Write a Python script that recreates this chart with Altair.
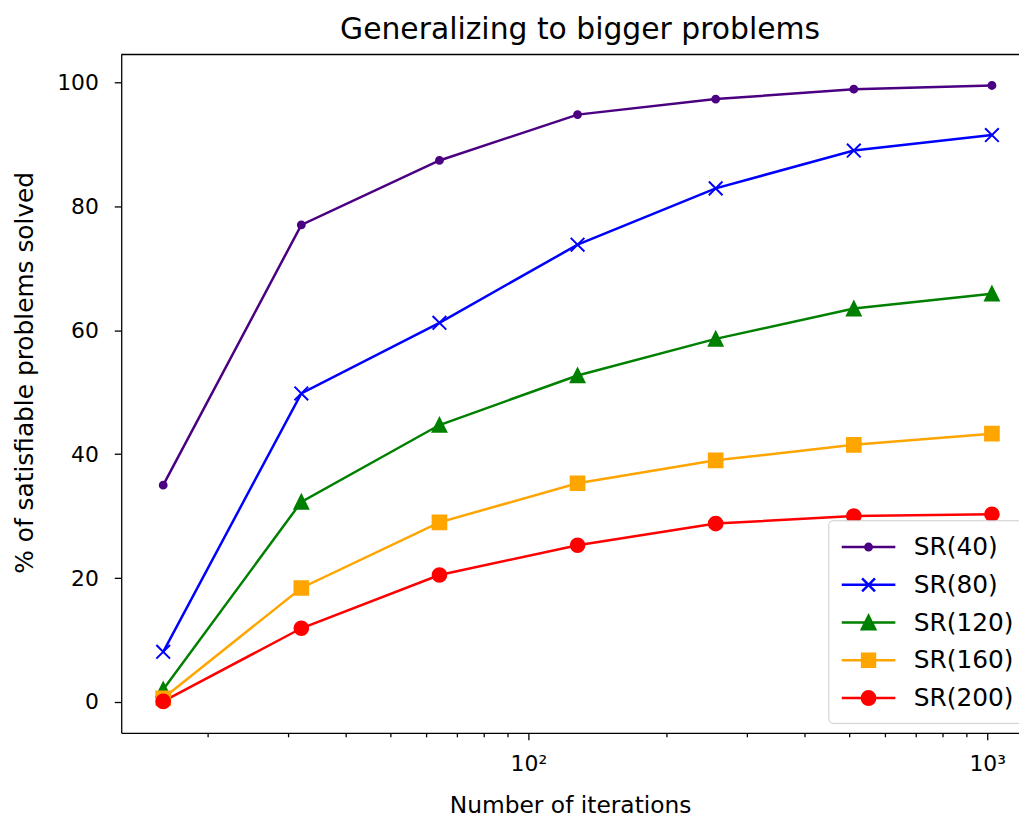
import altair as alt
import pandas as pd

# ---- data ----
iterations = [16, 32, 64, 128, 256, 512, 1024]
series_names = ["SR(40)", "SR(80)", "SR(120)", "SR(160)", "SR(200)"]
sr40 = [35.0, 77.0, 87.4, 94.8, 97.3, 98.9, 99.5]
sr80 = [8.1, 49.8, 61.2, 73.8, 82.9, 89.0, 91.5]
sr120 = [2.0, 32.3, 44.7, 52.7, 58.6, 63.5, 65.9]
sr160 = [0.6, 18.4, 29.0, 35.3, 39.0, 41.5, 43.3]
sr200 = [0.1, 11.9, 20.5, 25.3, 28.8, 30.0, 30.3]
y_ticks = [0, 20, 40, 60, 80, 100]
x_major = [100, 1000]
x_minor = [20, 30, 40, 50, 60, 70, 80, 90, 200, 300, 400, 500, 600, 700, 800, 900]

all_series = [sr40, sr80, sr120, sr160, sr200]
rows = []
for name, vals in zip(series_names, all_series):
    for it, v in zip(iterations, vals):
        rows.append({"iterations": it, "solved": v, "series": name})
df = pd.DataFrame(rows)

# ---- styles ----
colors = ["indigo", "blue", "green", "orange", "red"]
FONT = "DejaVu Sans"
W, H = 904, 683

dot = "M-0.5,0A0.5,0.5 0 1,0 0.5,0A0.5,0.5 0 1,0 -0.5,0Z"
xmark = "M-1,-1L1,1M-1,1L1,-1"
tri = "M0,-1L1,1L-1,1Z"
marker_shapes = [dot, xmark, tri, "square", "circle"]

# legend symbols: a line with the marker at its middle
ln = "M-1,0L3,0"
leg_shapes = [
    ln + "M0.755,0A0.245,0.245 0 1,0 1.245,0A0.245,0.245 0 1,0 0.755,0Z",
    ln + "M0.52,-0.48L1.48,0.48M0.52,0.48L1.48,-0.48",
    ln + "M1,-0.5L1.5,0.5L0.5,0.5Z",
    ln + "M0.52,-0.48L1.48,-0.48L1.48,0.48L0.52,0.48Z",
    ln + "M0.5,0A0.5,0.5 0 1,0 1.5,0A0.5,0.5 0 1,0 0.5,0Z",
]


def lookup_expr(field, values):
    expr = "'" + values[-1] + "'"
    for name, v in reversed(list(zip(series_names[:-1], values[:-1]))):
        expr = f"{field} == '{name}' ? '{v}' : ({expr})"
    return expr


def cscale():
    return alt.Scale(domain=series_names, range=colors)


legend = alt.Legend(
    title=None,
    orient="none",
    legendX=712,
    legendY=469,
    symbolSize=729,
    symbolStrokeWidth=2.5,
    symbolOpacity=1,
    labelFontSize=25,
    labelFont=FONT,
    labelColor="black",
    labelOffset=44,
    rowPadding=10,
    padding=12,
    strokeColor="#cccccc",
    fillColor="white",
    cornerRadius=4,
)

x_enc = alt.X(
    "iterations:Q",
    scale=alt.Scale(type="log", domain=[12.96, 1173], nice=False),
    axis=alt.Axis(
        values=sorted(x_minor + x_major),
        labelExpr="datum.value == 100 ? '10²' : (datum.value == 1000 ? '10³' : '')",
        tickSize={"condition": {"test": "datum.value == 100 || datum.value == 1000", "value": 7}, "value": 4},
        labelFlush=False,
        grid=False,
        title="Number of iterations",
        labelFontSize=22,
        titleFontSize=23.5,
        labelPadding=14,
        titlePadding=19,
    ),
)
y_enc = alt.Y(
    "solved:Q",
    scale=alt.Scale(domain=[-4.97, 104.5], nice=False, zero=False),
    axis=alt.Axis(
        values=y_ticks,
        tickSize=7,
        grid=False,
        title="% of satisfiable problems solved",
        labelFontSize=22,
        titleFontSize=25,
        labelPadding=16,
        titlePadding=19,
        titleY=320,
    ),
)

lines = alt.Chart(df).mark_line(strokeWidth=2.5, clip=True).encode(
    x=x_enc,
    y=y_enc,
    stroke=alt.Stroke("series:N", scale=cscale(), legend=legend),
    detail="series:N",
)

points = (
    alt.Chart(df)
    .transform_calculate(mshape=lookup_expr("datum.series", marker_shapes))
    .mark_point(filled=True, size=190, strokeWidth=2, opacity=1, clip=True)
    .encode(
        x="iterations:Q",
        y="solved:Q",
        fill=alt.Fill("series:N", scale=cscale(), legend=legend),
        stroke=alt.Stroke("series:N", scale=cscale(), legend=legend),
        shape=alt.Shape("mshape:N", scale=None),
    )
)

legend_layer = (
    alt.Chart(df)
    .transform_filter("false")
    .mark_point(filled=True, opacity=1)
    .encode(
        fill=alt.Fill("series:N", scale=cscale(), legend=legend),
        stroke=alt.Stroke("series:N", scale=cscale(), legend=legend),
        shape=alt.Shape("series:N", scale=alt.Scale(domain=series_names, range=leg_shapes), legend=legend),
    )
)

top_spine = alt.Chart(alt.Data(values=[{}])).mark_rule(color="black", strokeWidth=1.3).encode(
    x=alt.value(0), x2=alt.value(W), y=alt.value(0)
)

chart = (
    alt.layer(lines, points, legend_layer, top_spine)
    .properties(
        width=W,
        height=H,
        title=alt.Title(
            "Generalizing to bigger problems",
            fontSize=30,
            font=FONT,
            fontWeight="normal",
            color="black",
            offset=9,
            dx=10,
        ),
        autosize=alt.AutoSizeParams(type="none"),
        padding={"left": 114, "top": 44, "right": 0, "bottom": 86},
    )
    .configure_view(stroke=None)
    .configure_axis(
        labelFont=FONT,
        titleFont=FONT,
        labelColor="black",
        titleColor="black",
        titleFontWeight="normal",
        domainColor="black",
        domainWidth=1.3,
        tickColor="black",
        tickWidth=1.3,
    )
)

chart.save("out.html", embed_options={"renderer": "svg", "actions": False})
